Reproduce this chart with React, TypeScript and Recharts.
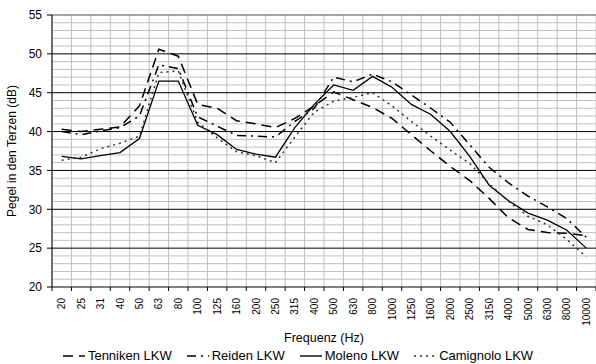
import { LineChart, Line, XAxis, YAxis, CartesianGrid, ReferenceLine, Legend } from "recharts";

const freqs = [
  "20", "25", "31", "40", "50", "63", "80", "100", "125", "160", "200", "250", "315", "400",
  "500", "630", "800", "1000", "1250", "1600", "2000", "2500", "3150", "4000", "5000", "6300", "8000", "10000",
];

const tenniken = [40.3, 40.0, 40.3, 40.6, 43.3, 50.6, 49.7, 43.5, 43.0, 41.4, 41.0, 40.5, 41.7, 43.3, 45.1, 44.1, 43.1, 41.7, 39.6, 37.5, 35.5, 33.7, 31.4, 28.9, 27.4, 27.0, 26.9, 26.6];
const reiden = [40.0, 39.6, 40.1, 40.5, 42.0, 48.6, 48.1, 41.9, 40.7, 39.5, 39.4, 39.3, 41.3, 43.0, 47.0, 46.4, 47.4, 46.4, 44.7, 43.0, 41.2, 38.3, 35.4, 33.4, 31.7, 30.3, 28.8, 26.4];
const moleno = [36.8, 36.5, 36.9, 37.3, 39.1, 46.5, 46.5, 40.8, 39.6, 37.7, 37.1, 36.7, 40.5, 43.5, 46.0, 45.3, 47.1, 45.7, 43.5, 42.2, 40.0, 36.8, 33.1, 31.1, 29.5, 28.6, 27.3, 25.0];
const camignolo = [36.3, 36.7, 37.8, 38.5, 39.4, 47.6, 47.8, 41.2, 39.2, 37.4, 36.9, 36.0, 39.3, 42.5, 43.9, 44.4, 45.0, 43.3, 41.3, 39.4, 37.6, 35.9, 33.3, 31.0, 29.1, 28.0, 26.1, 23.9];

const seriesNames = ["Tenniken LKW", "Reiden LKW", "Moleno LKW", "Camignolo LKW"];
const seriesKeys = ["tenniken", "reiden", "moleno", "camignolo"];
const seriesDash = ["10 6", "9 5 2 5", "", "2 4"];
const seriesWidth = [1.5, 1.5, 1.3, 1.5];
const seriesColor = ["#000", "#000", "#000", "#333"];

const yTicks = [20, 25, 30, 35, 40, 45, 50, 55];
const minorY = [21, 22, 23, 24, 26, 27, 28, 29, 31, 32, 33, 34, 36, 37, 38, 39, 41, 42, 43, 44, 46, 47, 48, 49, 51, 52, 53, 54];
const majorY = [25, 30, 35, 40, 45, 50];

const data = freqs.map((f, i) => ({
  x: i + 0.5,
  freq: f,
  tenniken: tenniken[i],
  reiden: reiden[i],
  moleno: moleno[i],
  camignolo: camignolo[i],
}));

const bounds = freqs.map((_, i) => i).concat([freqs.length]);
const centers = freqs.map((_, i) => i + 0.5);

const FONT = '"Liberation Sans", Arial, sans-serif';

function FreqTick(props: any) {
  const { x, y, payload } = props;
  const label = freqs[Math.floor(payload.value)];
  return (
    <text
      x={x}
      y={y}
      transform={`rotate(-90 ${x} ${y})`}
      textAnchor="end"
      dominantBaseline="central"
      fontSize={10}
      fontFamily={FONT}
      fill="#000"
    >
      {label}
    </text>
  );
}

function LegendBox() {
  return (
    <div
      style={{
        display: "flex",
        justifyContent: "center",
        gap: 15,
        fontFamily: FONT,
        fontSize: 13,
        lineHeight: "16px",
        height: 16,
        color: "#000",
      }}
    >
      {seriesNames.map((n, i) => (
        <span key={n} style={{ display: "flex", alignItems: "center" }}>
          <svg width={22} height={8}>
            <line x1={0} y1={4} x2={22} y2={4} stroke={seriesColor[i]} strokeWidth={1.4} strokeDasharray={seriesDash[i] || undefined} />
          </svg>
          <span style={{ marginLeft: 3 }}>{n}</span>
        </span>
      ))}
    </div>
  );
}

export default function App() {
  return (
    <div style={{ position: "absolute", left: 0, top: 0, background: "#fff" }}>
      <LineChart width={596} height={364} data={data} margin={{ top: 15, right: 0, bottom: 0, left: 0 }}>
        <CartesianGrid horizontal={false} stroke="#c0c0c0" />
        <XAxis
          dataKey="x"
          type="number"
          domain={[0, freqs.length]}
          ticks={bounds}
          interval={0}
          height={4}
          tickSize={4}
          tick={() => <g />}
          stroke="#000"
          allowDataOverflow
        />
        <XAxis
          xAxisId="lab"
          dataKey="x"
          type="number"
          domain={[0, freqs.length]}
          ticks={centers}
          interval={0}
          height={57}
          tickSize={0}
          tickMargin={7}
          axisLine={false}
          tickLine={false}
          tick={<FreqTick />}
          allowDataOverflow
          label={{ value: "Frequenz (Hz)", position: "insideBottom", offset: 6, fill: "#000", fontSize: 12.5, fontFamily: FONT }}
        />
        <YAxis
          domain={[20, 55]}
          ticks={yTicks}
          interval={0}
          width={52}
          tickSize={5}
          tickMargin={5}
          stroke="#000"
          tick={{ fill: "#000", fontSize: 12, fontFamily: FONT }}
          label={{ value: "Pegel in den Terzen (dB)", angle: -90, position: "insideLeft", offset: 12, textAnchor: "middle", fill: "#000", fontSize: 12, fontFamily: FONT }}
        />
        {minorY.map((v) => (
          <ReferenceLine key={"m" + v} y={v} stroke="#c0c0c0" strokeWidth={1} />
        ))}
        {majorY.map((v) => (
          <ReferenceLine key={"M" + v} y={v} stroke="#000" strokeWidth={1} />
        ))}
        <ReferenceLine y={55} stroke="#888" strokeWidth={1.5} />
        {seriesKeys.map((k, i) => (
          <Line
            key={k}
            dataKey={k}
            name={seriesNames[i]}
            type="linear"
            stroke={seriesColor[i]}
            strokeWidth={seriesWidth[i]}
            strokeDasharray={seriesDash[i] || undefined}
            dot={false}
            activeDot={false}
            isAnimationActive={false}
          />
        ))}
        <Legend verticalAlign="bottom" height={16} content={<LegendBox />} />
      </LineChart>
    </div>
  );
}
